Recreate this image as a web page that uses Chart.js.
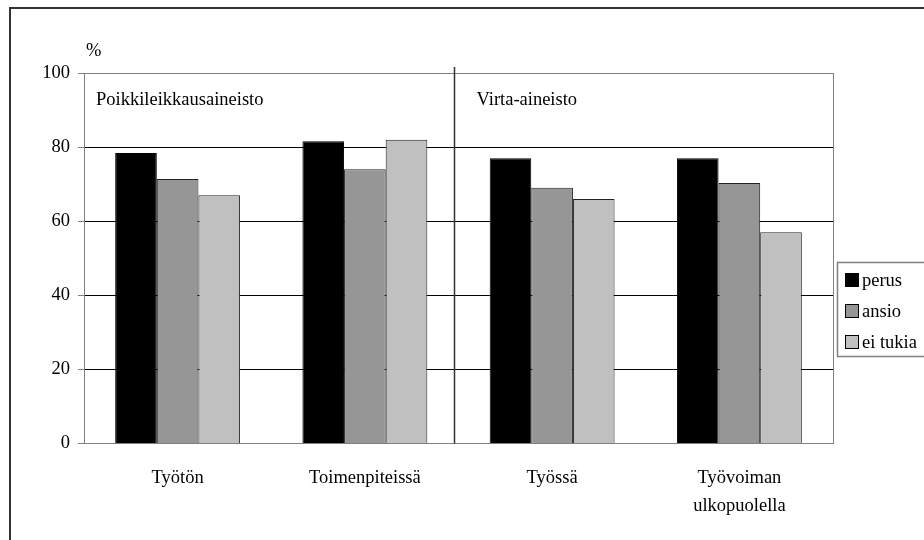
<!DOCTYPE html>
<html>
<head>
<meta charset="utf-8">
<script src="https://cdn.jsdelivr.net/npm/chart.js@4.4.1/dist/chart.umd.min.js"></script>
<style>
html,body{margin:0;padding:0;background:#fff;}
#wrap{position:relative;width:924px;height:540px;}
</style>
</head>
<body>
<div id="wrap"><canvas id="c" width="924" height="540"></canvas></div>
<script>
const categories = [['Työtön'], ['Toimenpiteissä'], ['Työssä'], ['Työvoiman', 'ulkopuolella']];
const seriesNames = ['perus', 'ansio', 'ei tukia'];
const perus = [78.4, 81.6, 77, 77];
const ansio = [71.4, 74, 69, 70.3];
const eiTukia = [67, 82, 66, 57];
const yTicks = [0, 20, 40, 60, 80, 100];
const panelLabels = ['Poikkileikkausaineisto', 'Virta-aineisto'];
const unitLabel = '%';
const colors = ['#000000', '#969696', '#c0c0c0'];

const FONT = "'Liberation Serif', 'Times New Roman', serif";
const FS = 18.5;

const decor = {
  id: 'decor',
  beforeDraw(chart) {
    const ctx = chart.ctx;
    ctx.save();
    ctx.fillStyle = '#fff';
    ctx.fillRect(0, 0, chart.width, chart.height);
    ctx.restore();
  },
  afterDraw(chart) {
    const ctx = chart.ctx;
    const a = chart.chartArea;
    const xs = chart.scales.x;
    ctx.save();
    // outer frame
    ctx.strokeStyle = '#333';
    ctx.lineWidth = 2;
    ctx.strokeRect(10, 8, chart.width + 20, chart.height + 20);
    // right border of plot
    ctx.strokeStyle = '#808080';
    ctx.lineWidth = 1;
    ctx.beginPath();
    ctx.moveTo(Math.round(a.right) + 0.5, a.top);
    ctx.lineTo(Math.round(a.right) + 0.5, a.bottom);
    ctx.stroke();
    // separator
    const sx = Math.round((xs.getPixelForValue(1) + xs.getPixelForValue(2)) / 2 - 5) + 0.5;
    ctx.strokeStyle = '#333';
    ctx.lineWidth = 1.5;
    ctx.beginPath();
    ctx.moveTo(sx, a.top - 6);
    ctx.lineTo(sx, a.bottom);
    ctx.stroke();
    // texts
    ctx.fillStyle = '#000';
    ctx.font = FS + 'px ' + FONT;
    ctx.textBaseline = 'middle';
    ctx.textAlign = 'left';
    ctx.fillText(unitLabel, a.left + 2, a.top - 22);
    ctx.fillText(panelLabels[0], a.left + 12, a.top + 27);
    ctx.fillText(panelLabels[1], sx + 22, a.top + 27);
    // legend
    const lx = a.right + 4, ly = 262;
    ctx.fillStyle = '#fff';
    ctx.fillRect(lx + 0.5, ly + 0.5, 120, 94);
    ctx.strokeStyle = '#808080';
    ctx.lineWidth = 1.5;
    ctx.strokeRect(lx + 0.5, ly + 0.5, 120, 94);
    chart.data.datasets.forEach((ds, i) => {
      const cy = ly + 18 + i * 31;
      ctx.fillStyle = ds.backgroundColor;
      ctx.fillRect(lx + 8.5, cy - 6.5, 13, 13);
      ctx.strokeStyle = '#000';
      ctx.lineWidth = 1;
      ctx.strokeRect(lx + 8.5, cy - 6.5, 13, 13);
      ctx.fillStyle = '#000';
      ctx.fillText(ds.label, lx + 25, cy + 1);
    });
    ctx.restore();
  }
};

new Chart(document.getElementById('c'), {
  type: 'bar',
  data: {
    labels: categories,
    datasets: [
      { label: seriesNames[0], data: perus, backgroundColor: colors[0], borderColor: '#000', borderWidth: 1 },
      { label: seriesNames[1], data: ansio, backgroundColor: colors[1], borderColor: '#222', borderWidth: 1 },
      { label: seriesNames[2], data: eiTukia, backgroundColor: colors[2], borderColor: '#222', borderWidth: 1 }
    ]
  },
  options: {
    responsive: false,
    animation: false,
    devicePixelRatio: 1,
    layout: { padding: { left: 0, top: 73, right: 91, bottom: 0 } },
    plugins: { legend: { display: false }, tooltip: { enabled: false } },
    datasets: { bar: { categoryPercentage: 0.667, barPercentage: 1 } },
    scales: {
      x: {
        grid: { display: false, drawTicks: false },
        border: { display: true, color: '#808080', width: 1 },
        ticks: { color: '#000', font: { family: FONT, size: FS, lineHeight: 1.5 }, padding: 21, maxRotation: 0, autoSkip: false },
        afterFit(s) { s.height = 96.5; }
      },
      y: {
        min: 0, max: 100,
        afterBuildTicks(s) { s.ticks = yTicks.map(v => ({ value: v })); },
        grid: {
          color: c => (c.tick && (c.tick.value === 100 || c.tick.value === 0)) ? '#808080' : '#000',
          tickColor: '#808080',
          tickLength: 6,
          drawTicks: true
        },
        border: { display: true, color: '#808080', width: 1 },
        ticks: { color: '#000', font: { family: FONT, size: FS }, padding: 8 },
        afterFit(s) { s.width = 84; }
      }
    }
  },
  plugins: [decor]
});
</script>
</body>
</html>
